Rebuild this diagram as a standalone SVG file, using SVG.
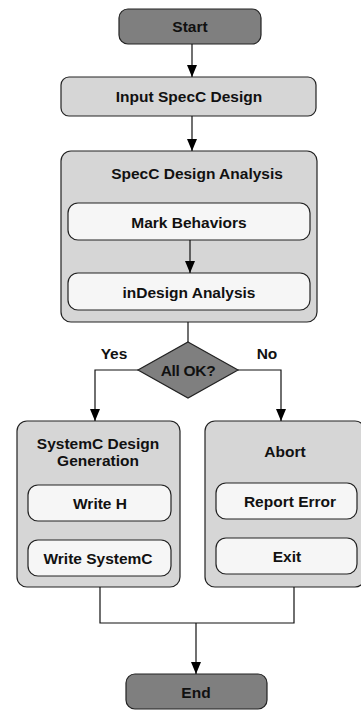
<svg xmlns="http://www.w3.org/2000/svg" width="361" height="711" viewBox="0 0 361 711">
  <style>
    .term { fill: #7f7f7f; stroke: #222; stroke-width: 1.2; }
    .step { fill: #d6d6d6; stroke: #222; stroke-width: 1.2; }
    .sub  { fill: #f6f6f6; stroke: #222; stroke-width: 1.2; }
    .lbl  { font-family: "Liberation Sans", Arial, sans-serif; font-weight: bold; font-size: 15.5px; fill: #111; text-anchor: middle; }
    .wire { fill: none; stroke: #111; stroke-width: 1.2; }
  </style>
  <defs>
    <marker id="arrow" markerUnits="userSpaceOnUse" markerWidth="12" markerHeight="10" refX="12" refY="5" orient="auto">
      <path d="M0,0 L12,5 L0,10 z" fill="#000"/>
    </marker>
  </defs>

  <rect width="361" height="711" fill="#fff"/>

  <g id="start">
    <rect class="term" x="119" y="9" width="142" height="35" rx="9"/>
    <text class="lbl" x="190" y="32">Start</text>
  </g>

  <g id="input">
    <rect class="step" x="61" y="77" width="255" height="39" rx="8"/>
    <text class="lbl" x="189" y="101.5">Input SpecC Design</text>
  </g>

  <g id="analysis">
    <rect class="step" x="61" y="151" width="256" height="171" rx="10"/>
    <text class="lbl" x="197" y="179">SpecC Design Analysis</text>
  </g>

  <g id="mark">
    <rect class="sub" x="68" y="203" width="242" height="37" rx="10"/>
    <text class="lbl" x="189" y="228">Mark Behaviors</text>
  </g>

  <g id="indesign">
    <rect class="sub" x="68" y="273" width="242" height="37" rx="10"/>
    <text class="lbl" x="189" y="298">inDesign Analysis</text>
  </g>

  <g id="check">
    <polygon class="term" points="188,342 238,370 188,398 138,370"/>
    <text class="lbl" x="188" y="375.5" letter-spacing="-0.3">All OK?</text>
  </g>

  <g id="generation">
    <rect class="step" x="17" y="421" width="163" height="166" rx="10"/>
    <text class="lbl" x="98" y="449">SystemC Design</text>
    <text class="lbl" x="98" y="466">Generation</text>
  </g>

  <g id="writeh">
    <rect class="sub" x="28" y="485" width="143" height="36" rx="10"/>
    <text class="lbl" x="100" y="508.5">Write H</text>
  </g>

  <g id="writesystemc">
    <rect class="sub" x="28" y="540" width="143" height="36" rx="10"/>
    <text class="lbl" x="98" y="564">Write SystemC</text>
  </g>

  <g id="abort">
    <rect class="step" x="205" y="421" width="160" height="166" rx="10"/>
    <text class="lbl" x="285" y="457">Abort</text>
  </g>

  <g id="report">
    <rect class="sub" x="216" y="483" width="141" height="36" rx="10"/>
    <text class="lbl" x="290" y="507">Report Error</text>
  </g>

  <g id="exit">
    <rect class="sub" x="216" y="538" width="141" height="36" rx="10"/>
    <text class="lbl" x="287" y="562">Exit</text>
  </g>

  <g id="end">
    <rect class="term" x="126" y="674" width="141" height="35" rx="9"/>
    <text class="lbl" x="196" y="698">End</text>
  </g>

  <!-- flow lines, drawn over the container boxes -->
  <g id="connectors">
    <line class="wire" x1="192" y1="44" x2="192" y2="77" marker-end="url(#arrow)"/>
    <line class="wire" x1="192" y1="116" x2="192" y2="151" marker-end="url(#arrow)"/>
    <line class="wire" x1="190" y1="240" x2="190" y2="273" marker-end="url(#arrow)"/>
    <line class="wire" x1="188" y1="322" x2="188" y2="342"/>
    <polyline class="wire" points="138,370 95,370 95,421" marker-end="url(#arrow)"/>
    <polyline class="wire" points="238,370 281,370 281,421" marker-end="url(#arrow)"/>
    <polyline class="wire" points="100,587 100,623 294,623 294,587"/>
    <line class="wire" x1="196" y1="623" x2="196" y2="674" marker-end="url(#arrow)"/>
    <text class="lbl" x="114" y="359">Yes</text>
    <text class="lbl" x="267" y="359">No</text>
  </g>
</svg>
